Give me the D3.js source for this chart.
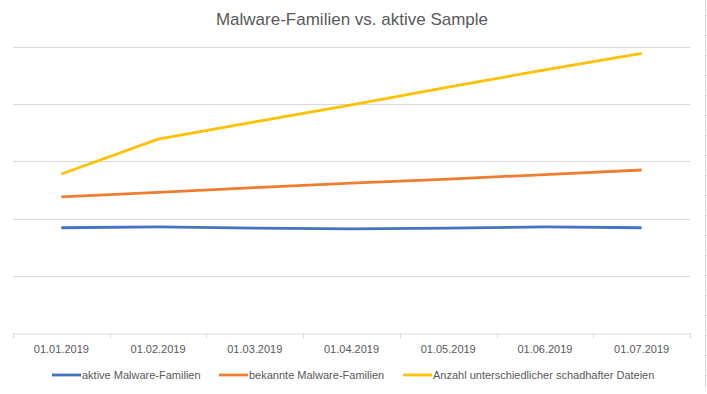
<!DOCTYPE html>
<html>
<head>
<meta charset="utf-8">
<script src="https://cdn.jsdelivr.net/npm/d3@7.9.0/dist/d3.min.js"></script>
<style>
  html, body { margin: 0; padding: 0; background: #fff; }
  svg { display: block; font-family: "Liberation Sans", Arial, sans-serif; }
</style>
</head>
<body>
<svg id="chart" width="707" height="394"></svg>
<script>
const title = 'Malware-Familien vs. aktive Sample';
const dates = ['01.01.2019', '01.02.2019', '01.03.2019', '01.04.2019', '01.05.2019', '01.06.2019', '01.07.2019'];
const seriesNames = ['aktive Malware-Familien', 'bekannte Malware-Familien', 'Anzahl unterschiedlicher schadhafter Dateien'];
const activeFamilies = [184, 185.5, 183.5, 182, 183.5, 185.5, 184];
const knownFamilies = [238, 246, 254, 262, 269, 277, 285];
const maliciousFiles = [278, 339, 369, 399, 430, 460, 489];
const colors = ['#4472C4', '#ED7D31', '#FFC000'];

const series = [activeFamilies, knownFamilies, maliciousFiles];

const svg = d3.select('#chart');
const margin = { top: 47, right: 17, bottom: 61, left: 13 };
const width = 707, height = 394;
const innerW = width - margin.left - margin.right;
const innerH = height - margin.top - margin.bottom;

const x = d3.scaleBand().domain(dates).range([margin.left, margin.left + innerW]);
const y = d3.scaleLinear().domain([0, 500]).range([margin.top + innerH, margin.top]);

// title
svg.append('text')
  .attr('x', 352).attr('y', 25)
  .attr('text-anchor', 'middle')
  .attr('fill', '#595959')
  .style('font-size', '17px')
  .text(title);

// gridlines
svg.append('g')
  .selectAll('line')
  .data(y.ticks(5).filter(d => d > 0))
  .join('line')
  .attr('x1', margin.left).attr('x2', margin.left + innerW)
  .attr('y1', d => Math.round(y(d)) + 0.5).attr('y2', d => Math.round(y(d)) + 0.5)
  .attr('stroke', '#D9D9D9').attr('stroke-width', 1);

// x axis
const xAxis = d3.axisBottom(x).tickSize(0).tickPadding(12);
const gx = svg.append('g')
  .attr('transform', `translate(0,${Math.round(y(0)) + 0.5})`)
  .call(xAxis);
gx.select('.domain').attr('stroke', '#D9D9D9');
gx.selectAll('text').attr('fill', '#595959').style('font-size', '11px');

// category separators
svg.append('g')
  .selectAll('line')
  .data(dates.concat(['end']))
  .join('line')
  .attr('x1', (d, i) => Math.round(i < dates.length ? x(d) : x.range()[1]) + 0.5)
  .attr('x2', (d, i) => Math.round(i < dates.length ? x(d) : x.range()[1]) + 0.5)
  .attr('y1', Math.round(y(0)) + 0.5).attr('y2', Math.round(y(0)) + 5)
  .attr('stroke', '#D9D9D9');

// lines
const line = d3.line()
  .x((d, i) => x(dates[i]) + x.bandwidth() / 2)
  .y(d => y(d));

series.forEach((s, i) => {
  svg.append('path')
    .datum(s)
    .attr('d', line)
    .attr('fill', 'none')
    .attr('stroke', colors[i])
    .attr('stroke-width', 2.8)
    .attr('stroke-linejoin', 'round');
});

// legend
const legendX = [52, 219, 403];
const legend = svg.append('g').attr('transform', 'translate(0,375)');
seriesNames.forEach((name, i) => {
  const g = legend.append('g').attr('transform', `translate(${legendX[i]},0)`);
  g.append('line')
    .attr('x1', 0).attr('x2', 29)
    .attr('stroke', colors[i]).attr('stroke-width', 2.8);
  g.append('text')
    .attr('x', 30).attr('y', 4)
    .attr('fill', '#595959')
    .style('font-size', '11px')
    .text(name);
});

// sheet edge at right
svg.append('line')
  .attr('x1', 705.5).attr('x2', 705.5)
  .attr('y1', 0).attr('y2', 388)
  .attr('stroke', '#D9D9D9');
svg.append('g')
  .selectAll('line')
  .data(d3.range(15, 388, 20))
  .join('line')
  .attr('x1', 705.5).attr('x2', 707)
  .attr('y1', d => d + 0.5).attr('y2', d => d + 0.5)
  .attr('stroke', '#D9D9D9');
</script>
</body>
</html>
